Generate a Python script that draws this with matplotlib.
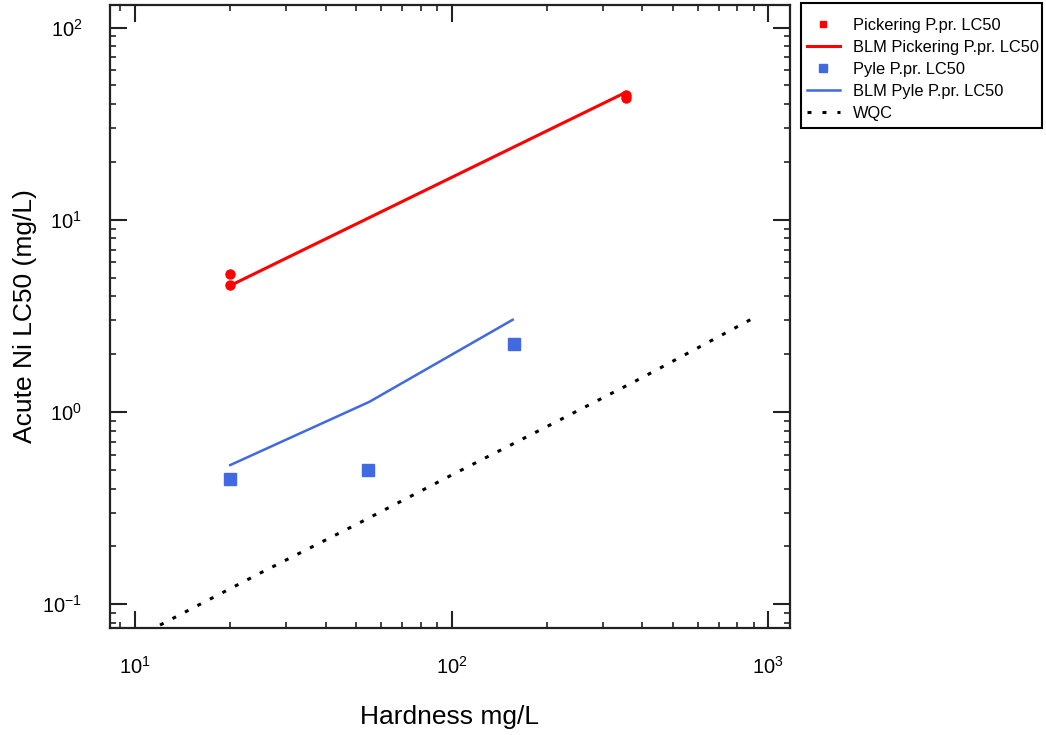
import matplotlib
matplotlib.use('Agg')
import matplotlib.pyplot as plt
from matplotlib.lines import Line2D
from matplotlib.patches import Rectangle
from matplotlib.ticker import LogLocator, NullFormatter

plt.rcParams['font.family'] = ['Liberation Sans', 'DejaVu Sans']
plt.rcParams['axes.unicode_minus'] = False

# measured fathead minnow LC50, Pickering
pick_hard = [20, 20, 355, 355]
pick_lc50 = [5.2, 4.6, 44.8, 43.2]
# BLM prediction for Pickering
blm_pick_hard = [20, 355]
blm_pick_lc50 = [4.55, 46.0]

# measured LC50, Pyle
pyle_hard = [20, 54.5, 158]
pyle_lc50 = [0.45, 0.50, 2.27]
# BLM prediction for Pyle
blm_pyle_hard = [20, 55, 156]
blm_pyle_lc50 = [0.53, 1.13, 3.02]

# water quality criterion
wqc_hard = [12, 25, 50, 100, 200, 400, 905]
wqc_lc50 = [0.078, 0.146, 0.26, 0.47, 0.84, 1.51, 3.1]

RED = '#ff0000'
BLUE = '#4169e1'

fig = plt.figure(figsize=(10.46, 7.35), dpi=100)
ax = fig.add_axes([110/1046, 1-628/735, 680/1046, 623/735])

ax.plot(blm_pick_hard, blm_pick_lc50, color=RED, lw=2.2, zorder=3)
ax.plot(pick_hard, pick_lc50, 'o', color=RED, ms=6.5, zorder=4)
ax.plot(blm_pyle_hard, blm_pyle_lc50, color=BLUE, lw=1.8, zorder=3)
ax.plot(pyle_hard, pyle_lc50, 's', color=BLUE, ms=8, zorder=4)
ax.plot(wqc_hard, wqc_lc50, color='black', lw=2.2, linestyle=(0, (1.3, 3.3)),
        dash_capstyle='butt', zorder=2)

ax.set_xscale('log')
ax.set_yscale('log')
ax.set_xlim(8.34, 1173)
ax.set_ylim(0.0753, 131)

for a in (ax.xaxis, ax.yaxis):
    a.set_major_locator(LogLocator(base=10))
    a.set_minor_locator(LogLocator(base=10, subs=range(2, 10)))
    a.set_minor_formatter(NullFormatter())

ax.tick_params(which='both', direction='in', top=True, right=True, color='#222222')
ax.tick_params(which='major', length=12, width=1.5, labelsize=14.5)
ax.tick_params(which='minor', length=4.5, width=1.2)
ax.tick_params(axis='x', which='major', pad=20)
ax.tick_params(axis='y', which='major', pad=20)
for s in ax.spines.values():
    s.set_linewidth(1.6)
    s.set_color('#222222')

ax.set_xlabel('Hardness mg/L', fontsize=19, labelpad=20)
ax.set_ylabel('Acute Ni LC50 (mg/L)', fontsize=19, labelpad=4)

handles = [
    Line2D([], [], marker='s', ls='none', color=RED, ms=5),
    Line2D([], [], color=RED, lw=2.2),
    Line2D([], [], marker='s', ls='none', color=BLUE, ms=6),
    Line2D([], [], color=BLUE, lw=1.8),
    Line2D([], [], color='black', lw=2.2, ls=(0, (1.3, 3.6))),
]
labels = ['Pickering P.pr. LC50', 'BLM Pickering P.pr. LC50', 'Pyle P.pr. LC50',
          'BLM Pyle P.pr. LC50', 'WQC']
leg = fig.legend(handles, labels, loc='upper left', bbox_to_anchor=(807/1046, 1-18/735),
                 borderaxespad=0, borderpad=0, fontsize=11.8, numpoints=1,
                 handlelength=2.0, handletextpad=0.8, labelspacing=0.42,
                 frameon=False)
# legend box
fig.patches.append(Rectangle((801/1046, 1-128/735), 241/1046, 125/735,
                             transform=fig.transFigure, fill=False,
                             edgecolor='black', lw=1.5))

fig.savefig('out.png', dpi=100)
